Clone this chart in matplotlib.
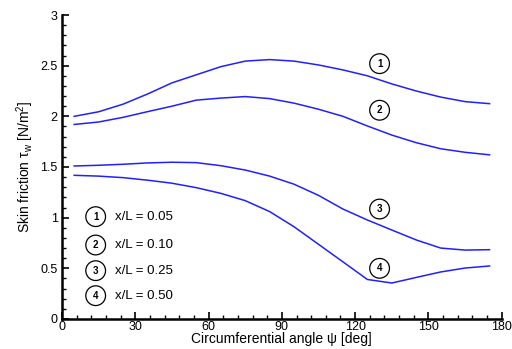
import matplotlib
matplotlib.use("Agg")
import matplotlib.pyplot as plt
from matplotlib.ticker import MultipleLocator

plt.rcParams['font.family'] = ['Liberation Sans', 'DejaVu Sans']
plt.rcParams['mathtext.fontset'] = 'custom'
plt.rcParams['mathtext.rm'] = 'Liberation Sans'
plt.rcParams['mathtext.it'] = 'Liberation Sans'

# circumferential angle [deg]
psi = [5, 15, 25, 35, 45, 55, 65, 75, 85, 95, 105, 115, 125, 135, 145, 155, 165, 175]

# skin friction for each x/L station
tau_005 = [2.00, 2.045, 2.12, 2.22, 2.33, 2.41, 2.49, 2.545, 2.56, 2.545, 2.507, 2.458,
           2.40, 2.32, 2.25, 2.19, 2.145, 2.125]
tau_010 = [1.92, 1.944, 1.99, 2.046, 2.10, 2.16, 2.18, 2.195, 2.175, 2.13, 2.07, 2.00,
           1.905, 1.815, 1.74, 1.68, 1.645, 1.62]
tau_025 = [1.51, 1.517, 1.527, 1.54, 1.547, 1.543, 1.513, 1.47, 1.41, 1.33, 1.22, 1.085,
           0.977, 0.878, 0.78, 0.70, 0.68, 0.684]
tau_050 = [1.418, 1.41, 1.395, 1.37, 1.34, 1.296, 1.24, 1.168, 1.06, 0.91, 0.737, 0.564,
           0.39, 0.355, 0.41, 0.464, 0.503, 0.523]

series = [tau_005, tau_010, tau_025, tau_050]
labels = ["x/L = 0.05", "x/L = 0.10", "x/L = 0.25", "x/L = 0.50"]
tag_y = [2.52, 2.06, 1.085, 0.50]
legend_y = [1.01, 0.73, 0.477, 0.23]

fig = plt.figure(figsize=(5.12, 3.49), dpi=100)
ax = fig.add_axes([0.121, 0.086, 0.859, 0.871])

for i, tau in enumerate(series):
    ax.plot(psi, tau, color='#2020ff', lw=1.1)
    circ = dict(boxstyle='circle,pad=0.5', fc='white', ec='black', lw=0.9)
    ax.text(130, tag_y[i], str(i + 1), ha='center', va='center', fontsize=7,
            fontweight='bold', bbox=circ)
    ax.text(13.8, legend_y[i], str(i + 1), ha='center', va='center', fontsize=7,
            fontweight='bold', bbox=circ)
    ax.text(21.7, legend_y[i], labels[i], ha='left', va='center', fontsize=9.5)

ax.set_xlim(0, 180)
ax.set_ylim(0, 3)
ax.xaxis.set_major_locator(MultipleLocator(30))
ax.xaxis.set_minor_locator(MultipleLocator(6))
ax.yaxis.set_major_locator(MultipleLocator(0.5))
ax.yaxis.set_minor_locator(MultipleLocator(0.1))
ax.set_xticks([0, 30, 60, 90, 120, 150, 180])
ax.set_xticklabels(['0', '30', '60', '90', '120', '150', '180'])
ax.set_yticks([0, 0.5, 1, 1.5, 2, 2.5, 3])
ax.set_yticklabels(['0', '0.5', '1', '1.5', '2', '2.5', '3'])

for s in ['top', 'right']:
    ax.spines[s].set_visible(False)
for s in ['left', 'bottom']:
    ax.spines[s].set_linewidth(1.8)

ax.tick_params(which='major', direction='in', length=5, width=1.2, labelsize=9, pad=3)
ax.tick_params(axis='x', which='major', pad=1.5)
ax.tick_params(which='minor', direction='in', length=3, width=1.0)

ax.set_xlabel('Circumferential angle \u03c8 [deg]', fontsize=10, labelpad=-1)
ax.set_ylabel(r'Skin friction $\tau_\mathrm{w}$ [N/m$^2$]', fontsize=10, labelpad=3)

fig.savefig("out.png", dpi=100)
